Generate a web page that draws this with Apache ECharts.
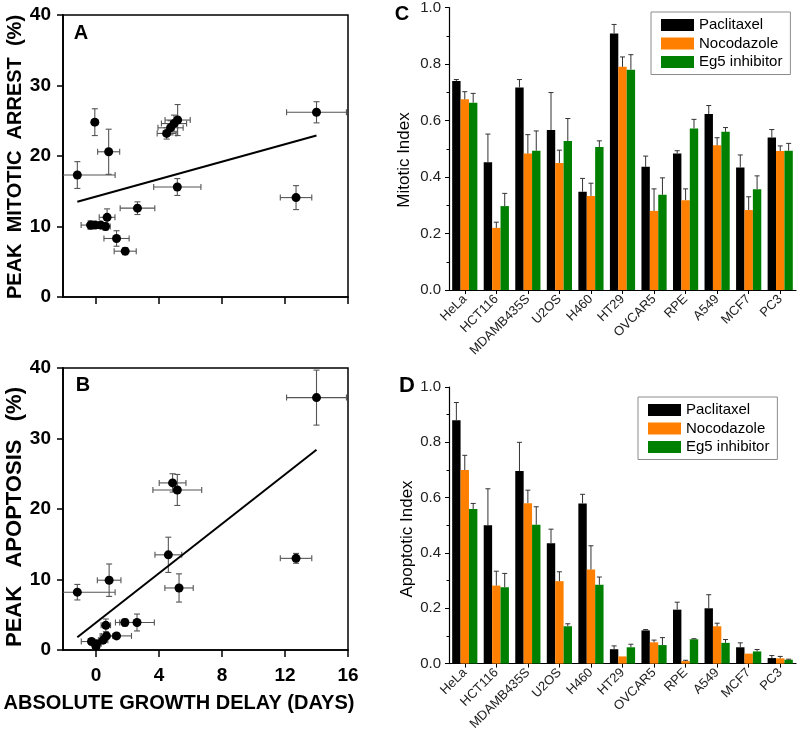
<!DOCTYPE html>
<html>
<head>
<meta charset="utf-8">
<script src="https://cdn.jsdelivr.net/npm/echarts@6/dist/echarts.min.js"></script>
<style>
html,body{margin:0;padding:0;background:#fff;}
#chart{width:800px;height:733px;}
</style>
</head>
<body>
<div id="chart"></div>
<script>
// ---------- Panel A: peak mitotic arrest vs absolute growth delay ----------
const aX    = [-1.19, -0.08, 0.80, -0.35, -0.05, 0.30, 0.60, 0.70, 1.30, 1.85, 2.63, 5.16, 4.48, 4.73, 4.95, 5.18, 12.7, 14.0];
const aY    = [17.3, 24.8, 20.6, 10.2, 10.2, 10.2, 10.0, 11.3, 8.3, 6.5, 12.6, 15.6, 23.2, 24.0, 24.6, 25.1, 14.1, 26.2];
const aXErr = [2.4, 0.2, 0.7, 0.6, 0.3, 0.3, 0.3, 0.5, 0.8, 0.7, 1.1, 1.5, 0.6, 0.8, 0.8, 0.8, 1.0, 1.9];
const aYErr = [1.9, 1.9, 3.2, 0.6, 0.4, 0.4, 0.5, 1.2, 1.1, 0.5, 0.9, 1.2, 0.8, 1.0, 1.2, 2.2, 1.7, 1.5];
const aFitX = [-1.19, 14.0];
const aFitY = [13.5, 22.9];

// ---------- Panel B: peak apoptosis vs absolute growth delay ----------
const bX    = [-1.19, 0.83, 0.62, 1.83, 2.60, 1.30, 0.66, -0.29, 0.03, 0.45, 0.00, 4.59, 5.27, 4.86, 5.16, 12.7, 14.0];
const bY    = [8.2, 9.9, 3.5, 3.9, 3.9, 2.0, 2.0, 1.2, 0.9, 1.4, 0.5, 13.5, 8.8, 23.7, 22.7, 13.0, 35.8];
const bXErr = [2.4, 0.75, 0.3, 0.6, 1.1, 0.95, 0.4, 0.65, 0.3, 0.3, 0.2, 0.85, 0.9, 0.85, 1.55, 1.0, 1.9];
const bYErr = [1.1, 2.3, 0.9, 0.5, 1.2, 0.4, 0.4, 0.4, 0.3, 0.3, 0.3, 2.5, 2.0, 1.3, 2.2, 0.7, 3.9];
const bFitX = [-1.19, 14.0];
const bFitY = [1.8, 28.4];

const delayTicks = [0, 4, 8, 12, 16];

// ---------- Panels C & D: bar charts ----------
const cellLines = ['HeLa','HCT116','MDAMB435S','U2OS','H460','HT29','OVCAR5','RPE','A549','MCF7','PC3'];
const drugNames = ['Paclitaxel','Nocodazole','Eg5 inhibitor'];

const mitP    = [0.740, 0.452, 0.717, 0.566, 0.348, 0.908, 0.436, 0.483, 0.623, 0.434, 0.540];
const mitPErr = [0.005, 0.100, 0.028, 0.133, 0.047, 0.032, 0.038, 0.010, 0.030, 0.044, 0.028];
const mitN    = [0.675, 0.220, 0.483, 0.450, 0.333, 0.790, 0.280, 0.318, 0.512, 0.283, 0.492];
const mitNErr = [0.027, 0.020, 0.067, 0.045, 0.045, 0.035, 0.078, 0.040, 0.027, 0.047, 0.018];
const mitE    = [0.663, 0.297, 0.493, 0.527, 0.506, 0.780, 0.337, 0.572, 0.560, 0.357, 0.493];
const mitEErr = [0.033, 0.045, 0.070, 0.080, 0.022, 0.053, 0.060, 0.032, 0.015, 0.047, 0.026];

const apoP    = [0.880, 0.500, 0.696, 0.435, 0.579, 0.052, 0.120, 0.195, 0.200, 0.059, 0.020];
const apoPErr = [0.064, 0.132, 0.104, 0.051, 0.033, 0.012, 0.003, 0.027, 0.049, 0.016, 0.009];
const apoN    = [0.700, 0.282, 0.580, 0.298, 0.340, 0.026, 0.077, 0.009, 0.135, 0.036, 0.019];
const apoNErr = [0.053, 0.052, 0.047, 0.034, 0.086, 0.000, 0.008, 0.003, 0.011, 0.000, 0.007];
const apoE    = [0.559, 0.276, 0.502, 0.135, 0.285, 0.059, 0.067, 0.088, 0.075, 0.044, 0.014];
const apoEErr = [0.020, 0.050, 0.065, 0.009, 0.028, 0.011, 0.027, 0.002, 0.012, 0.007, 0.002];

// ---------- styling ----------
const FONT = 'Liberation Sans';
const COLORS = ['#000000', '#ff8000', '#008000'];
const BW = 8.4;

const chart = echarts.init(document.getElementById('chart'), null, {renderer: 'canvas'});

function scatterErr(gi, xs, ys, xe, ye) {
  return {
    type: 'custom', xAxisIndex: gi, yAxisIndex: gi, clip: true, z: 3,
    data: xs.map((x, i) => [x, ys[i], xe[i], ye[i]]),
    renderItem: function (params, api) {
      const x = api.value(0), y = api.value(1), ex = api.value(2), ey = api.value(3);
      const l = api.coord([x - ex, y]), r = api.coord([x + ex, y]);
      const t = api.coord([x, y + ey]), b = api.coord([x, y - ey]);
      const st = {stroke: '#555', lineWidth: 1.1};
      const c = 3;
      const ch = [];
      if (ex > 0) {
        ch.push({type: 'line', shape: {x1: l[0], y1: l[1], x2: r[0], y2: r[1]}, style: st});
        ch.push({type: 'line', shape: {x1: l[0], y1: l[1] - c, x2: l[0], y2: l[1] + c}, style: st});
        ch.push({type: 'line', shape: {x1: r[0], y1: r[1] - c, x2: r[0], y2: r[1] + c}, style: st});
      }
      if (ey > 0) {
        ch.push({type: 'line', shape: {x1: t[0], y1: t[1], x2: b[0], y2: b[1]}, style: st});
        ch.push({type: 'line', shape: {x1: t[0] - c, y1: t[1], x2: t[0] + c, y2: t[1]}, style: st});
        ch.push({type: 'line', shape: {x1: b[0] - c, y1: b[1], x2: b[0] + c, y2: b[1]}, style: st});
      }
      return {type: 'group', children: ch};
    }
  };
}

function barErr(gi, vals, errs, k) {
  return {
    type: 'custom', xAxisIndex: gi, yAxisIndex: gi, z: 5,
    data: vals.map((v, i) => [i, v, errs[i]]),
    encode: {x: 0, y: 1},
    renderItem: function (params, api) {
      const i = api.value(0), v = api.value(1), e = api.value(2);
      if (!(e > 0)) return {type: 'group', children: []};
      const p0 = api.coord([i, v]);
      const p1 = api.coord([i, v + e]);
      const x = p0[0] + (k - 1) * BW;
      const st = {stroke: '#333', lineWidth: 1};
      return {type: 'group', children: [
        {type: 'line', shape: {x1: x, y1: p0[1], x2: x, y2: p1[1]}, style: st},
        {type: 'line', shape: {x1: x - 2.5, y1: p1[1], x2: x + 2.5, y2: p1[1]}, style: st}
      ]};
    }
  };
}

function barSeries(gi, k, vals) {
  return {
    type: 'bar', name: drugNames[k], xAxisIndex: gi, yAxisIndex: gi,
    barWidth: BW, barGap: '0%', data: vals,
    itemStyle: {color: COLORS[k]}, z: 2
  };
}

function delayXAxis(gi, showLabels) {
  return {
    type: 'value', gridIndex: gi, min: -2.1, max: 16,
    axisLine: {show: true, onZero: false, lineStyle: {color: '#000', width: 1.5}},
    axisTick: {show: true, customValues: delayTicks, length: 7, lineStyle: {color: '#000', width: 1.5}},
    axisLabel: {show: showLabels, customValues: delayTicks, margin: 16,
      fontFamily: FONT, fontWeight: 'bold', fontSize: 19, color: '#000'},
    splitLine: {show: false}
  };
}
function pctYAxis(gi) {
  return {
    type: 'value', gridIndex: gi, min: 0, max: 40, interval: 10,
    axisLine: {show: true, onZero: false, lineStyle: {color: '#000', width: 1.8}},
    axisTick: {show: true, length: 6, lineStyle: {color: '#000', width: 1.5}},
    axisLabel: {margin: 12, fontFamily: FONT, fontWeight: 'bold', fontSize: 19, color: '#000'},
    splitLine: {show: false}
  };
}
function catXAxis(gi) {
  return {
    type: 'category', gridIndex: gi, data: cellLines,
    axisLine: {show: true, onZero: false, lineStyle: {color: '#000', width: 1.2}},
    axisTick: {show: true, alignWithLabel: true, length: 4, lineStyle: {color: '#000'}},
    axisLabel: {rotate: 45, margin: 7, fontFamily: FONT, fontSize: 13, color: '#222', interval: 0},
    splitLine: {show: false}
  };
}
function idxYAxis(gi) {
  return {
    type: 'value', gridIndex: gi, min: 0, max: 1, interval: 0.2,
    axisLine: {show: true, onZero: false, lineStyle: {color: '#000', width: 1.2}},
    axisTick: {show: true, length: 4, lineStyle: {color: '#000'}},
    minorTick: {show: true, splitNumber: 2, length: 2.5, lineStyle: {color: '#000'}},
    axisLabel: {margin: 8, fontFamily: FONT, fontSize: 15, color: '#222',
      formatter: v => v.toFixed(1)},
    splitLine: {show: false}
  };
}

function gtext(txt, x, y, size, bold, rot) {
  return {
    type: 'text', x: x, y: y, rotation: rot || 0,
    style: {text: txt, x: 0, y: 0, align: 'center', verticalAlign: 'middle',
      font: (bold ? 'bold ' : '') + size + 'px "' + FONT + '"', fill: '#000'}
  };
}

function legendAt(left, top) {
  return {
    data: drugNames, left: left, top: top, orient: 'vertical',
    icon: 'rect', itemWidth: 33, itemHeight: 12, itemGap: 3.5,
    padding: [5.5, 8, 5, 10], borderColor: '#8c8c8c', borderWidth: 1,
    backgroundColor: '#fff', selectedMode: false,
    textStyle: {fontFamily: FONT, fontSize: 15, color: '#000'}
  };
}

const option = {
  animation: false,
  backgroundColor: '#fff',
  grid: [
    {left: 63, top: 15, width: 285, height: 282, show: true, borderColor: '#000', borderWidth: 1.5, backgroundColor: 'transparent'},
    {left: 63, top: 368, width: 285, height: 282, show: true, borderColor: '#000', borderWidth: 1.5, backgroundColor: 'transparent'},
    {left: 449, top: 7, width: 347, height: 283},
    {left: 449, top: 387, width: 347, height: 283}
  ],
  xAxis: [delayXAxis(0, false), delayXAxis(1, true), catXAxis(2), catXAxis(3)],
  yAxis: [pctYAxis(0), pctYAxis(1), idxYAxis(2), idxYAxis(3)],
  legend: [legendAt(651, 12), legendAt(638, 397)],
  series: [
    scatterErr(0, aX, aY, aXErr, aYErr),
    {type: 'line', xAxisIndex: 0, yAxisIndex: 0, data: aFitX.map((x, i) => [x, aFitY[i]]),
      symbol: 'none', lineStyle: {color: '#000', width: 2}, z: 4},
    {type: 'scatter', xAxisIndex: 0, yAxisIndex: 0, data: aX.map((x, i) => [x, aY[i]]),
      symbolSize: 9, itemStyle: {color: '#000', opacity: 1}, z: 6},
    scatterErr(1, bX, bY, bXErr, bYErr),
    {type: 'line', xAxisIndex: 1, yAxisIndex: 1, data: bFitX.map((x, i) => [x, bFitY[i]]),
      symbol: 'none', lineStyle: {color: '#000', width: 2}, z: 4},
    {type: 'scatter', xAxisIndex: 1, yAxisIndex: 1, data: bX.map((x, i) => [x, bY[i]]),
      symbolSize: 9, itemStyle: {color: '#000', opacity: 1}, z: 6},

    barSeries(2, 0, mitP), barSeries(2, 1, mitN), barSeries(2, 2, mitE),
    barErr(2, mitP, mitPErr, 0), barErr(2, mitN, mitNErr, 1), barErr(2, mitE, mitEErr, 2),
    barSeries(3, 0, apoP), barSeries(3, 1, apoN), barSeries(3, 2, apoE),
    barErr(3, apoP, apoPErr, 0), barErr(3, apoN, apoNErr, 1), barErr(3, apoE, apoEErr, 2)
  ],
  graphic: [
    gtext('A', 81, 33, 20, true),
    gtext('B', 83, 385, 20, true),
    gtext('C', 402, 14, 20, true),
    gtext('D', 407, 386, 22, true),
    gtext('PEAK  MITOTIC  ARREST  (%)', 15, 157, 20, true, Math.PI / 2),
    gtext('PEAK   APOPTOSIS   (%)', 15, 517, 22, true, Math.PI / 2),
    gtext('ABSOLUTE GROWTH DELAY (DAYS)', 179, 703, 20, true),
    gtext('Mitotic Index', 404, 160, 17, false, Math.PI / 2),
    gtext('Apoptotic Index', 407, 539, 17, false, Math.PI / 2)
  ]
};

chart.setOption(option);
</script>
</body>
</html>
